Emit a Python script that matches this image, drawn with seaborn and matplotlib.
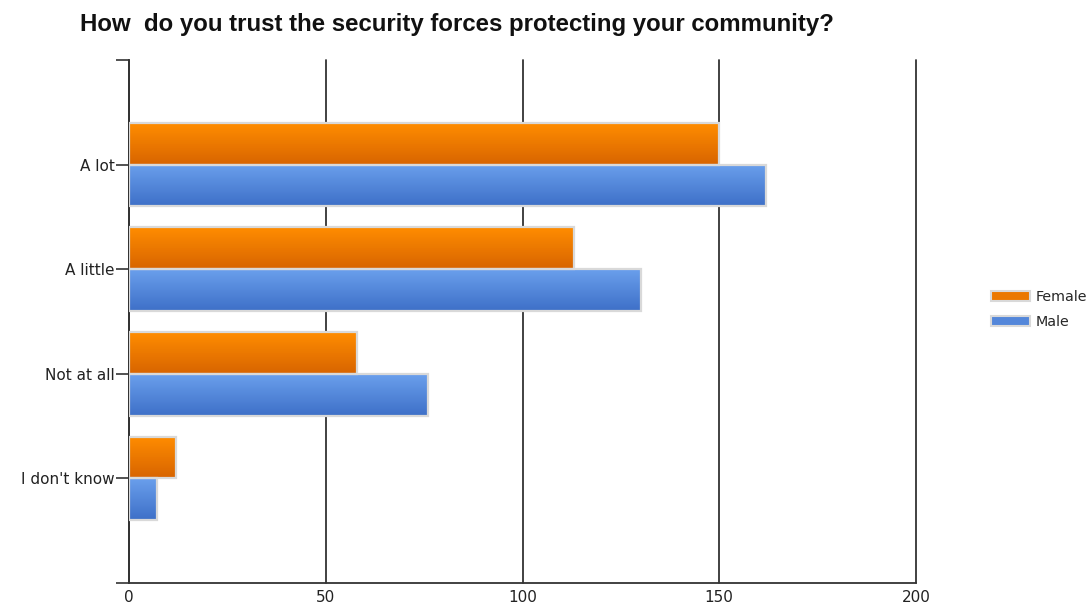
import numpy as np
import pandas as pd
import matplotlib
matplotlib.use("Agg")
import matplotlib.pyplot as plt
import seaborn as sns
from matplotlib.colors import LinearSegmentedColormap
from matplotlib.patches import Patch

categories = ["A lot", "A little", "Not at all", "I don't know"]
female = [150, 113, 58, 12]
male = [162, 130, 76, 7]
series = ["Female", "Male"]
x_ticks = [0, 50, 100, 150, 200]

df = pd.DataFrame({
    "answer": categories * 2,
    "count": female + male,
    "gender": ["Female"] * len(categories) + ["Male"] * len(categories),
})

sns.set_theme(style="white")
plt.rcParams["font.family"] = ["DejaVu Sans"]

fig = plt.figure(figsize=(10.89, 6.04), dpi=100)
ax = fig.add_axes([0.1185, 0.0348, 0.7226, 0.866])

base = {"Female": "#F08000", "Male": "#5588DD"}
sns.barplot(data=df, y="answer", x="count", hue="gender", order=categories,
            hue_order=series, palette=base, orient="h", width=0.8,
            edgecolor="#D9D9D9", linewidth=1.6, ax=ax, legend=False, zorder=3)

# vertical gradient fill inside each bar
grads = {
    "Female": LinearSegmentedColormap.from_list("f", ["#FF8D00", "#D86400"]),
    "Male": LinearSegmentedColormap.from_list("m", ["#6A9FEC", "#3E70C8"]),
}
grad = np.linspace(0, 1, 64).reshape(-1, 1)
for i, patch in enumerate(ax.patches[:2 * len(categories)]):
    name = series[i // len(categories)]
    x0, y0 = patch.get_x(), patch.get_y()
    w, h = patch.get_width(), patch.get_height()
    im = ax.imshow(grad, cmap=grads[name], aspect="auto",
                   extent=(x0, x0 + w, y0 + h, y0), origin="upper", zorder=3.5)
    im.set_clip_path(patch)
    patch.set_facecolor("none")
    patch.set_zorder(4)

ax.set_xlim(0, 200)
ax.set_ylim(len(categories), -1)
ax.set_xticks(x_ticks)
ax.set_xticklabels([str(t) for t in x_ticks], fontsize=11, color="#222222")
ax.set_yticks(range(-1, len(categories) + 1))
ax.set_yticklabels([""] + categories + [""], fontsize=11, color="#222222")
ax.tick_params(axis="y", left=True, length=9.5, width=1.2, color="#333333", pad=1)
ax.tick_params(axis="x", bottom=False, length=0, pad=5)
ax.xaxis.grid(True, color="#333333", linewidth=1.3, zorder=0)
for gl in ax.get_xgridlines():
    gl.set_clip_on(False)
ax.set_axisbelow(True)
ax.set_xlabel("")
ax.set_ylabel("")
for side in ["top", "right"]:
    ax.spines[side].set_visible(False)
for side in ["left", "bottom"]:
    ax.spines[side].set_color("#333333")
    ax.spines[side].set_linewidth(1.3)

ax.set_title("How  do you trust the security forces protecting your community?",
             fontsize=17.3, fontweight="bold", loc="left", x=-0.062, y=1.04,
             color="#111111", family="Liberation Sans")

handles = [Patch(facecolor=grads[s](0.5), edgecolor="#D9D9D9", linewidth=1.5) for s in series]
fig.legend(handles, series, loc="center left", bbox_to_anchor=(0.905, 0.487),
           frameon=False, fontsize=10.3, handlelength=2.7, handleheight=0.7,
           handletextpad=0.4, labelspacing=0.75, borderaxespad=0)

fig.savefig("out.png", dpi=100)
